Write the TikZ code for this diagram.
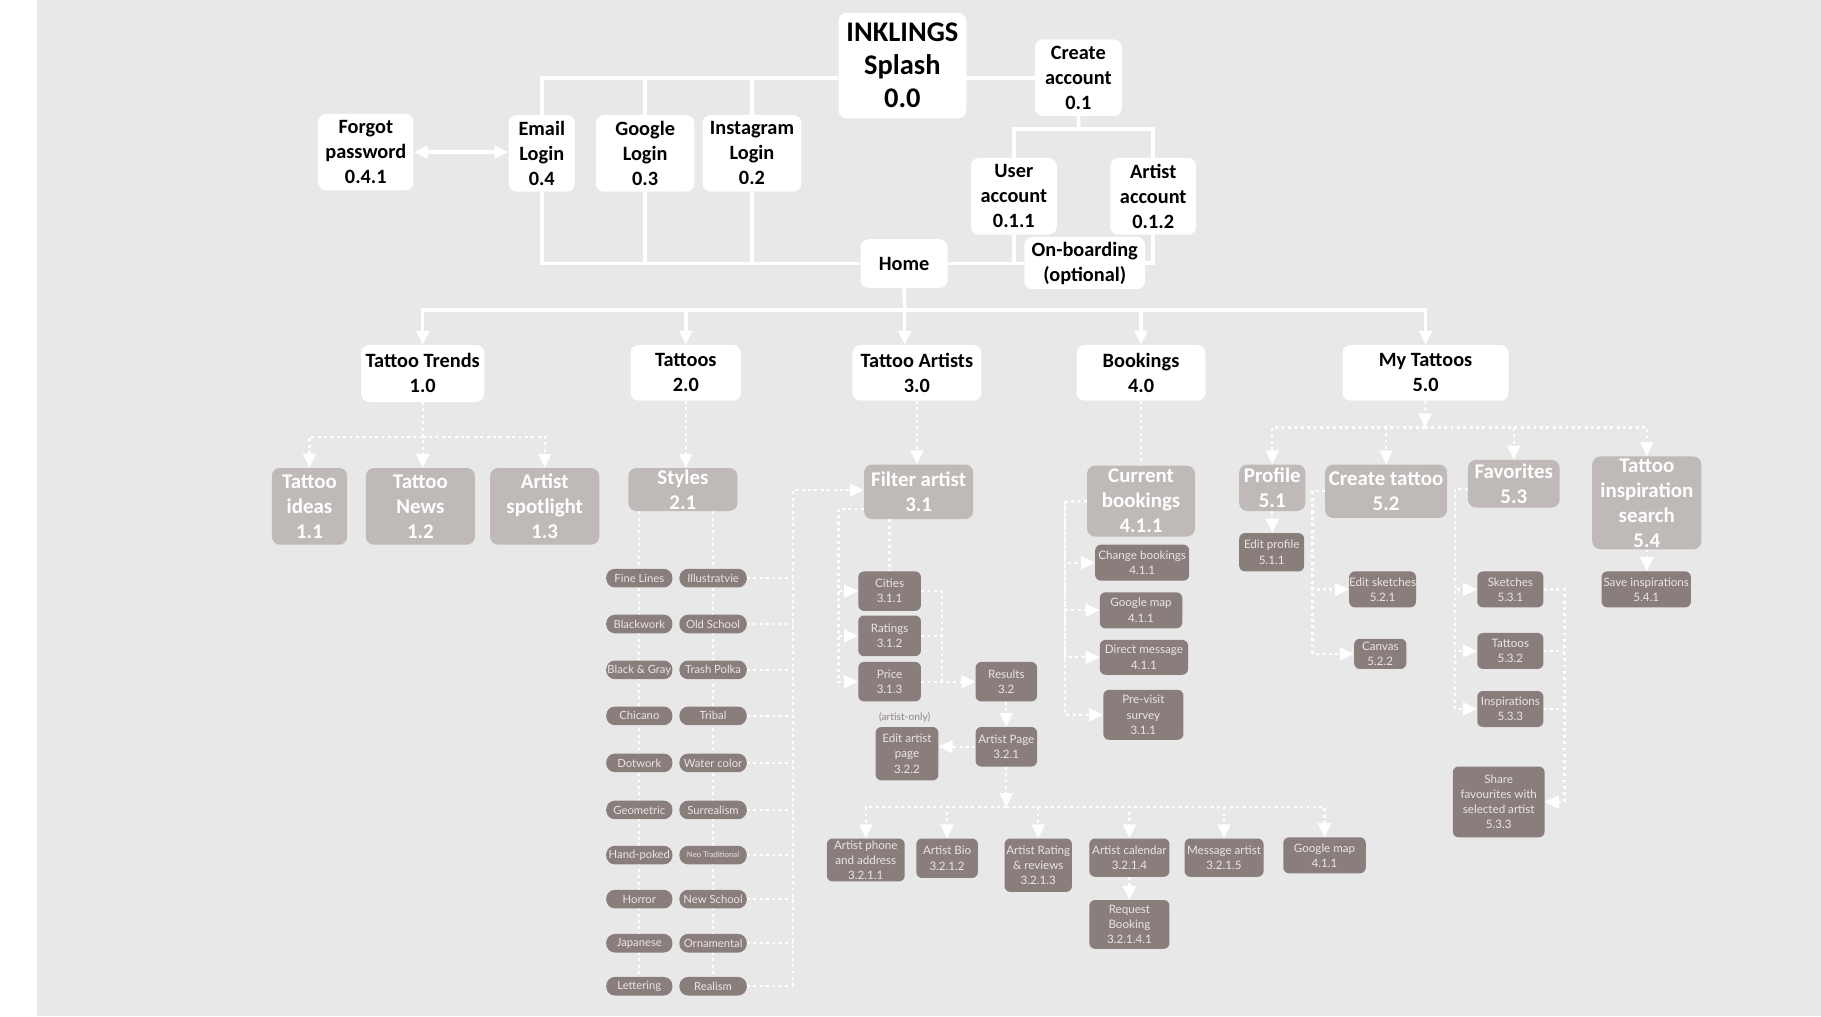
\documentclass[tikz,border=0pt]{standalone}
\usepackage{fontspec}
\setmainfont{Carlito}
\newfontfamily\lt{Lato}
\usetikzlibrary{arrows.meta,calc}
\pgfdeclarelayer{bg}
\pgfdeclarelayer{ln}
\pgfsetlayers{bg,ln,main}
\definecolor{bgc}{HTML}{E8E8E8}
\definecolor{lightc}{HTML}{BFB9B8}
\definecolor{darkc}{HTML}{8A7E7D}
\definecolor{dtext}{HTML}{EAE5E4}
\definecolor{notec}{HTML}{8F8685}
\tikzset{
  box/.style={inner sep=0pt, align=center},
  wbox/.style={box, rounded corners=7pt, fill=white, text=black, font=\bfseries\fontsize{17.5}{21.5}\selectfont},
  lbox/.style={box, rounded corners=7pt, fill=lightc, text=white, font=\bfseries\fontsize{18}{21.5}\selectfont},
  dbox/.style={box, rounded corners=5pt, fill=darkc, text=dtext, font=\lt\fontsize{10}{13}\selectfont},
  pill/.style={box, rounded corners=7.5pt, fill=darkc, text=dtext, minimum height=16pt, font=\lt\fontsize{9.7}{11}\selectfont},
  pl/.style={pill, minimum width=57pt},
  pr/.style={pill, minimum width=58pt},
  conn/.style={white, line width=3pt},
  dotl/.style={white, line width=2pt, dash pattern=on 2.5pt off 3pt},
  arrowend/.style={-{Triangle[length=12pt,width=11pt]}},
  arrowboth/.style={{Triangle[length=12pt,width=11pt]}-{Triangle[length=12pt,width=11pt]}}
}
\begin{document}
\begin{tikzpicture}[x=1pt,y=-1pt]
\begin{pgfonlayer}{bg}
\fill[white] (0,0) rectangle (1568,875);
\fill[bgc] (32,0) rectangle (1568,875);
\end{pgfonlayer}
\useasboundingbox (0,0) rectangle (1568,875);

% ---------- top level ----------
\node[wbox,font=\bfseries\fontsize{24.5}{28.5}\selectfont,minimum width=110pt,minimum height=91pt] (splash) at (777,56.5) {INKLINGS\\Splash\\0.0};
\node[wbox,minimum width=75pt,minimum height=66pt] (create) at (928.5,67) {Create\\account\\0.1};
\node[wbox,minimum width=82pt,minimum height=66pt] (forgot) at (315,131) {Forgot\\password\\0.4.1};
\node[wbox,minimum width=57pt,minimum height=66pt] (email) at (466.5,132) {Email\\Login\\0.4};
\node[wbox,minimum width=85pt,minimum height=66pt] (google) at (555.5,132) {Google\\Login\\0.3};
\node[wbox,minimum width=85pt,minimum height=66pt] (insta) at (647.5,132) {Instagram\\Login\\0.2};
\node[wbox,minimum width=74pt,minimum height=66pt] (user) at (873,169) {User\\account\\0.1.1};
\node[wbox,minimum width=74pt,minimum height=66pt] (artacc) at (993,169) {Artist\\account\\0.1.2};
\node[wbox,minimum width=75pt,minimum height=42pt] (home) at (778.5,227) {Home};
\node[wbox,minimum width=104pt,minimum height=45pt] (onb) at (934,226.5) {On-boarding\\(optional)};

% ---------- sections ----------
\node[wbox,minimum width=106pt,minimum height=49pt] (trends) at (364,321.5) {Tattoo Trends\\1.0};
\node[wbox,minimum width=95pt,minimum height=48pt] (tattoos) at (590.5,321) {Tattoos\\2.0};
\node[wbox,minimum width=111pt,minimum height=48pt] (artists) at (789.5,321) {Tattoo Artists\\3.0};
\node[wbox,minimum width=111pt,minimum height=48pt] (bookings) at (982.5,321) {Bookings\\4.0};
\node[wbox,minimum width=143pt,minimum height=48pt] (mytat) at (1227.5,321) {My Tattoos\\5.0};

% ---------- level 2 ----------
\node[lbox,minimum width=65pt,minimum height=66pt] (ideas) at (266.5,436) {Tattoo\\ideas\\1.1};
\node[lbox,minimum width=94pt,minimum height=66pt] (news) at (362,436) {Tattoo\\News\\1.2};
\node[lbox,minimum width=94pt,minimum height=66pt] (spot) at (469,436) {Artist\\spotlight\\1.3};
\node[lbox,minimum width=94pt,minimum height=37pt] (styles) at (588,421.5) {Styles\\2.1};
\node[lbox,minimum width=94pt,minimum height=47pt] (filter) at (791,423.5) {Filter artist\\3.1};
\node[lbox,minimum width=93pt,minimum height=61pt] (curbook) at (982.5,431.5) {Current\\bookings\\4.1.1};
\node[lbox,minimum width=57pt,minimum height=40pt] (profile) at (1095.5,420) {Profile\\5.1};
\node[lbox,minimum width=105pt,minimum height=46pt] (createt) at (1193.5,423) {Create tattoo\\5.2};
\node[lbox,minimum width=79pt,minimum height=41pt] (fav) at (1303.5,416.5) {Favorites\\5.3};
\node[lbox,minimum width=94pt,minimum height=80pt] (insp) at (1418,433) {Tattoo\\inspiration\\search\\5.4};

% ---------- styles pills ----------
\node[pl] (l1) at (550.5,497.8) {Fine Lines};
\node[pl] (l2) at (550.5,537.3) {Blackwork};
\node[pl] (l3) at (550.5,576.8) {Black \& Gray};
\node[pl] (l4) at (550.5,616.4) {Chicano};
\node[pl] (l5) at (550.5,656.9) {Dotwork};
\node[pl] (l6) at (550.5,697.4) {Geometric};
\node[pl] (l7) at (550.5,736.3) {Hand-poked};
\node[pl] (l8) at (550.5,774.2) {Horror};
\node[pl] (l9) at (550.5,812.2) {Japanese};
\node[pl] (l10) at (550.5,849.2) {Lettering};
\node[pr] (r1) at (614,497.8) {Illustratvie};
\node[pr] (r2) at (614,537.3) {Old School};
\node[pr] (r3) at (614,576.8) {Trash Polka};
\node[pr] (r4) at (614,616.4) {Tribal};
\node[pr] (r5) at (614,656.9) {Water color};
\node[pr] (r6) at (614,697.4) {Surrealism};
\node[pr,font=\lt\fontsize{6.7}{8}\selectfont] (r7) at (614,736.3) {Neo Traditional};
\node[pr] (r8) at (614,774.2) {New School};
\node[pr] (r9) at (614,812.2) {Ornamental};
\node[pr] (r10) at (614,849.2) {Realism};

% ---------- artists ----------
\node[dbox,minimum width=54pt,minimum height=34pt] (cities) at (766,509) {Cities\\3.1.1};
\node[dbox,minimum width=54pt,minimum height=35pt] (ratings) at (766,547.5) {Ratings\\3.1.2};
\node[dbox,minimum width=54pt,minimum height=34pt] (price) at (766,587) {Price\\3.1.3};
\node[dbox,minimum width=53pt,minimum height=34pt] (results) at (866.5,587) {Results\\3.2};
\node[dbox,minimum width=53pt,minimum height=34pt] (artpage) at (866.5,643) {Artist Page\\3.2.1};
\node[dbox,minimum width=54pt,minimum height=46pt] (editart) at (781,649) {Edit artist\\page\\3.2.2};
\node[font=\lt\fontsize{8.8}{10}\selectfont,text=notec,inner sep=0pt] (ao) at (779,618) {(artist-only)};
\node[dbox,minimum width=67pt,minimum height=37pt] (phone) at (745.5,740.5) {Artist phone\\and address\\3.2.1.1};
\node[dbox,minimum width=53pt,minimum height=34pt] (bio) at (815.5,739) {Artist Bio\\3.2.1.2};
\node[dbox,minimum width=58pt,minimum height=46pt] (rating) at (894,745) {Artist Rating\\\& reviews\\3.2.1.3};
\node[dbox,minimum width=69pt,minimum height=33pt] (cal) at (972.5,738.5) {Artist calendar\\3.2.1.4};
\node[dbox,minimum width=68pt,minimum height=33pt] (msg) at (1054,738.5) {Message artist\\3.2.1.5};
\node[dbox,minimum width=71pt,minimum height=31pt] (gmapb) at (1140.5,736.5) {Google map\\4.1.1};
\node[dbox,minimum width=69pt,minimum height=42pt] (req) at (972.5,796) {Request\\Booking\\3.2.1.4.1};

% ---------- bookings ----------
\node[dbox,minimum width=81pt,minimum height=31pt] (changeb) at (983.5,484.5) {Change bookings\\4.1.1};
\node[dbox,minimum width=71pt,minimum height=31pt] (gmapa) at (982.5,525.5) {Google map\\4.1.1};
\node[dbox,minimum width=76pt,minimum height=30pt] (dm) at (985,566) {Direct message\\4.1.1};
\node[dbox,minimum width=69pt,minimum height=43pt] (previsit) at (984.5,615.5) {Pre-visit\\survey\\3.1.1};

% ---------- my tattoos ----------
\node[dbox,minimum width=56pt,minimum height=33pt] (editprof) at (1095,475.5) {Edit profile\\5.1.1};
\node[dbox,minimum width=57pt,minimum height=31pt] (editsk) at (1190.5,507.5) {Edit sketches\\5.2.1};
\node[dbox,minimum width=45pt,minimum height=26pt] (canvas) at (1188.5,563) {Canvas\\5.2.2};
\node[dbox,minimum width=57pt,minimum height=31pt] (sketches) at (1300.5,507.5) {Sketches\\5.3.1};
\node[dbox,minimum width=57pt,minimum height=31pt] (tat532) at (1300.5,560.5) {Tattoos\\5.3.2};
\node[dbox,minimum width=57pt,minimum height=31pt] (insps) at (1300.5,610.5) {Inspirations\\5.3.3};
\node[dbox,minimum width=79pt,minimum height=61pt] (share) at (1290.5,690.5) {Share\\favourites with\\selected artist\\5.3.3};
\node[dbox,minimum width=77pt,minimum height=31pt] (save) at (1417.5,507.5) {Save inspirations\\5.4.1};

% ---------- junctions ----------
\coordinate (hj) at (779,267);
\coordinate (cj) at (929,111);
\coordinate (tj) at (364,376);
\coordinate (mj) at (1227,368);
\coordinate (ctx) at (1130,423);
\coordinate (fx) at (1253,421);
\coordinate (sx) at (1347,507.5);
\coordinate (sv) at (683,422);
\coordinate (fa) at (722,438);
\coordinate (cx) at (811,509);
\coordinate (aj) at (866.5,695);
\coordinate (bx) at (917,432);

\begin{pgfonlayer}{ln}
% solid
\draw[conn] (create.west) -- (create.west -| splash.east);
\draw[conn] (email.north) |- (create.west -| splash.west);
\draw[conn] (google.north) -- (google.north |- create.west);
\draw[conn] (insta.north) -- (insta.north |- create.west);
\draw[conn] (create.south) -- (cj);
\draw[conn] (user.north) |- (cj) -| (artacc.north);
\draw[conn,arrowboth] (forgot.east) -- (forgot.east -| email.west);
\draw[conn] (email.south) |- (home.west);
\draw[conn] (google.south) -- (google.south |- home.west);
\draw[conn] (insta.south) -- (insta.south |- home.west);
\draw[conn] (home.east) -- (home.east -| onb.west);
\draw[conn] (user.south) -- (user.south |- home.east);
\draw[conn] (artacc.south) |- (onb.east);
\draw[conn] (home.south) -- (hj);
\draw[conn,arrowend] (hj) -| (trends.north);
\draw[conn,arrowend] (hj) -| (tattoos.north);
\draw[conn,arrowend] (hj) -- (hj |- artists.north);
\draw[conn,arrowend] (hj) -| (bookings.north);
\draw[conn,arrowend] (hj) -| (mytat.north);
% dotted: trends
\draw[dotl,arrowend] (trends.south) -- (trends.south |- news.north);
\draw[dotl,arrowend] (tj) -| (ideas.north);
\draw[dotl,arrowend] (tj) -| (spot.north);
% dotted: tattoos
\draw[dotl,arrowend] (tattoos.south) -- (tattoos.south |- styles.north);
\draw[dotl] (l10.center |- styles.south) -- (l10.center);
\draw[dotl] (r10.center |- styles.south) -- (r10.center);
\foreach \r in {r1,r2,r3,r4,r5,r6,r7,r8,r9,r10}{
  \draw[dotl] (\r.east) -- (\r.east -| sv);
}
\draw[dotl,arrowend] (r10.east -| sv) -- (sv) -- (sv -| filter.west);
% dotted: artists
\draw[dotl,arrowend] (artists.south) -- (artists.south |- filter.north);
\draw[dotl,arrowend] (filter.west |- fa) -- (fa) |- (price.west);
\draw[dotl,arrowend] (fa) |- (cities.west);
\draw[dotl,arrowend] (fa) |- (ratings.west);
\draw[dotl] (cities.north |- filter.south) -- (cities.north);
\draw[dotl] (cities.east) -- (cx) -- (cx |- price.east);
\draw[dotl] (ratings.east) -- (ratings.east -| cx);
\draw[dotl,arrowend] (price.east) -- (results.west);
\draw[dotl,arrowend] (results.south) -- (artpage.north);
\draw[dotl,arrowend] (artpage.west) -- (artpage.west -| editart.east);
\draw[dotl,arrowend] (artpage.south) -- (aj);
\draw[dotl,arrowend] (aj) -| (phone.north);
\draw[dotl,arrowend] (aj) -| (bio.north);
\draw[dotl,arrowend] (aj) -| (rating.north);
\draw[dotl,arrowend] (aj) -| (cal.north);
\draw[dotl,arrowend] (aj) -| (msg.north);
\draw[dotl,arrowend] (aj) -| (gmapb.north);
\draw[dotl,arrowend] (cal.south) -- (req.north);
% dotted: bookings
\draw[dotl] (bookings.south) -- (bookings.south |- curbook.north);
\draw[dotl,arrowend] (curbook.west) -- (bx) |- (previsit.west);
\draw[dotl,arrowend] (bx) |- (changeb.west);
\draw[dotl,arrowend] (bx) |- (gmapa.west);
\draw[dotl,arrowend] (bx) |- (dm.west);
% dotted: my tattoos
\draw[dotl,arrowend] (mytat.south) -- (mj);
\draw[dotl,arrowend] (mj) -| (profile.north);
\draw[dotl,arrowend] (mj) -| (createt.north);
\draw[dotl,arrowend] (mj) -| (fav.north);
\draw[dotl,arrowend] (mj) -| (insp.north);
\draw[dotl,arrowend] (profile.south) -- (profile.south |- editprof.north);
\draw[dotl,arrowend] (createt.west) -- (ctx) |- (editsk.west);
\draw[dotl,arrowend] (ctx) |- (canvas.west);
\draw[dotl,arrowend] (fav.west |- fx) -- (fx) |- (sketches.west);
\draw[dotl,arrowend] (fx) |- (tat532.west);
\draw[dotl,arrowend] (fx) |- (insps.west);
\draw[dotl,arrowend] (sketches.east) -- (sx) |- (share.east);
\draw[dotl] (tat532.east) -- (tat532.east -| sx);
\draw[dotl] (insps.east) -- (insps.east -| sx);
\draw[dotl,arrowend] (insp.south) -- (insp.south |- save.north);
\end{pgfonlayer}
\end{tikzpicture}
\end{document}
